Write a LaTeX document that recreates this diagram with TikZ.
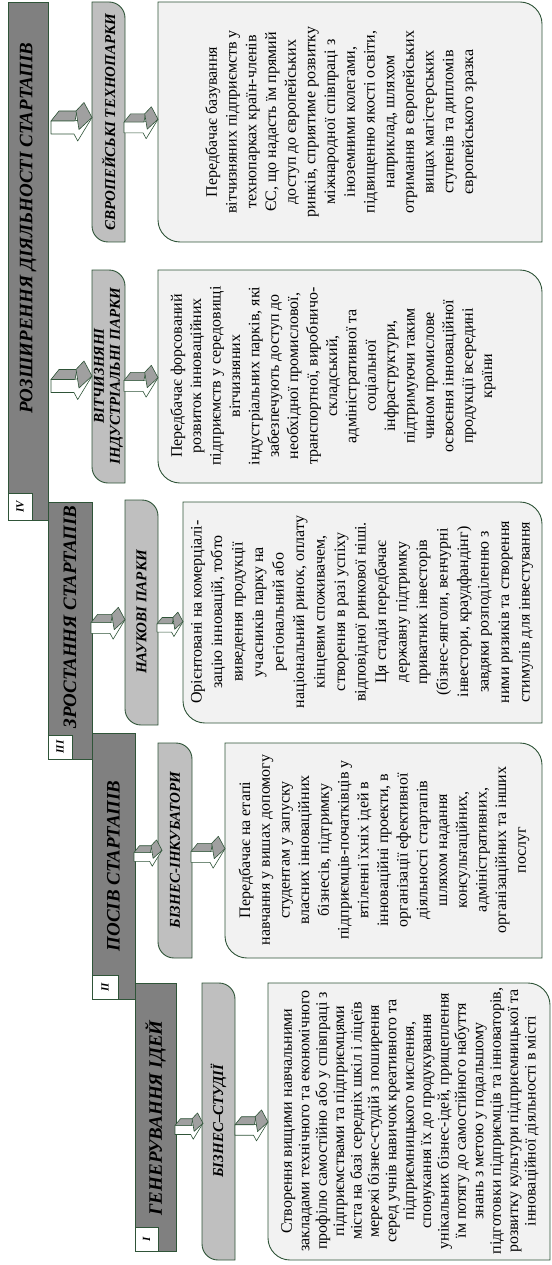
\documentclass[tikz,border=0pt]{standalone}
\usepackage{fontspec}
\setmainfont{Liberation Serif}
\usetikzlibrary{calc}
\definecolor{edgegreen}{RGB}{47,84,56}
\definecolor{bargray}{RGB}{128,128,128}
\definecolor{subgray}{RGB}{191,191,191}
\definecolor{notegray}{RGB}{242,242,242}
\definecolor{headgray}{RGB}{160,160,160}
% box with two rounded corners (top right and bottom left)
\def\diagbox[#1](#2,#3)(#4,#5)#6{\draw[#1] (#2,#3) -- ({#4-#6},#3) .. controls ({#4-0.45*#6},#3) and (#4,{#3+0.45*#6}) .. (#4,{#3+#6}) -- (#4,#5) -- ({#2+#6},#5) .. controls ({#2+0.45*#6},#5) and (#2,{#5-0.45*#6}) .. (#2,{#5-#6}) -- cycle;}
% folded block arrow, left end of shaft at (#1,#2), length #3
\def\blockarrow(#1,#2,#3){\begin{scope}[shift={(#1,#2)}, scale=#3/41]
	\draw[arrowline, fill=headgray] (0,-6.5) -- (8,-16.5) -- (26,-16.5) -- (24,-6.5) -- cycle;
	\draw[arrowline, fill=white] (0,-6.5) -- (23,-6.5) -- (41,-10) -- (26.7,13.5) -- (23,6.5) -- (0,6.5) -- cycle;
	\draw[arrowline, fill=headgray] (25,-16.5) -- (33,-25) -- (41,-10) -- (28,2) -- cycle;
	\end{scope}}

\begin{document}
\setlength{\lineskiplimit}{-20pt}
\begin{tikzpicture}[x=1pt, y=-1pt,
	stagebar/.style={draw=edgegreen, line width=0.9pt, fill=bargray},
	numbox/.style={draw=edgegreen, line width=0.9pt, fill=white},
	subbox/.style={draw=edgegreen, line width=0.9pt, fill=subgray},
	notebox/.style={draw=edgegreen, line width=0.9pt, fill=notegray},
	arrowline/.style={draw=edgegreen, line width=0.6pt, line join=round},
	stagetext/.style={rotate=90, inner sep=0pt, font=\fontsize{19}{20}\selectfont\bfseries\itshape},
	numtext/.style={rotate=90, inner sep=0pt, font=\fontsize{11}{12}\selectfont\bfseries\itshape},
	subtext/.style={rotate=90, inner sep=0pt, align=center, font=\fontsize{15}{16}\selectfont\bfseries\itshape},
	bodytext/.style={rotate=90, inner sep=0pt, align=center, font=\fontsize{16}{#1}\selectfont}]
	%%%%% START %%%%%
	\useasboundingbox (0,0) rectangle (551,1265);
	
	% stage bars
	\draw[stagebar] (135,983) rectangle (176,1251);
	\draw[stagebar] (92,733) rectangle (135,999);
	\draw[stagebar] (48,502) rectangle (92,759);
	\draw[stagebar] (8,2) rectangle (48,520);
	
	\draw[numbox] (135,1227) rectangle (158,1251);
	\draw[numbox] (92,975) rectangle (118,999);
	\draw[numbox] (48,735) rectangle (72,759);
	\draw[numbox] (8,493) rectangle (32,520);
	
	\node[numtext] (numI) at (146.5,1239) {I};
	\node[numtext] (numII) at (105,987) {II};
	\node[numtext] (numIII) at (60,747) {III};
	\node[numtext] (numIV) at (20,506.5) {IV};
	
	\node[stagetext] (gen) at (155.5,1118) {ГЕНЕРУВАННЯ ІДЕЙ};
	\node[stagetext] (sow) at (113.5,866) {ПОСІВ СТАРТАПІВ};
	\node[stagetext] (grow) at (70,617) {ЗРОСТАННЯ СТАРТАПІВ};
	\node[stagetext] (expand) at (28,228) {РОЗШИРЕННЯ ДІЯЛЬНОСТІ СТАРТАПІВ};
	
	% forms of support
	\diagbox[subbox](202,983)(235,1260){16}
	\diagbox[subbox](158,743)(192,958){16}
	\diagbox[subbox](125,500)(158,725){16}
	\diagbox[subbox](92,270)(125,483){16}
	\diagbox[subbox](92,2)(125,242){16}
	
	\node[subtext] (studio) at (218.5,1121) {БІЗНЕС–СТУДІЇ};
	\node[subtext] (incub) at (175,850) {БІЗНЕС-ІНКУБАТОРИ};
	\node[subtext] (scipark) at (141.5,612) {НАУКОВІ ПАРКИ};
	\node[subtext] (indpark) at (108.5,376) {ВІТЧИЗНЯНІ\\ІНДУСТРІАЛЬНІ ПАРКИ};
	\node[subtext] (eupark) at (108.5,122) {ЄВРОПЕЙСЬКІ ТЕХНОПАРКИ};
	
	% descriptions
	\diagbox[notebox](268,983)(550,1260){22}
	\diagbox[notebox](225,743)(542,958){22}
	\diagbox[notebox](183,502)(542,723){22}
	\diagbox[notebox](158,270)(542,483){22}
	\diagbox[notebox](158,2)(542,242){22}
	
	\node[bodytext=17.4] (studiotxt) at (410,1121) {Створення вищими навчальними\\закладами технічного та економічного\\профілю самостійно або у співпраці з\\підприємствами та підприємцями\\міста на базі середніх шкіл і ліцеїв\\мережі бізнес-студій з поширення\\серед учнів навичок креативного та\\підприємницького мислення,\\спонукання їх до продукування\\унікальних бізнес-ідей, прищеплення\\їм потягу до самостійного набуття\\знань з метою у подальшому\\підготовки підприємців та інноваторів,\\розвитку культури підприємницької та\\інноваційної діяльності в місті};
	
	\node[bodytext=19.7] (incubtxt) at (384,850) {Передбачає на етапі\\навчання у вишах допомогу\\студентам у запуску\\власних інноваційних\\бізнесів, підтримку\\підприємців-початківців у\\втіленні їхніх ідей в\\інноваційні проекти, в\\організації ефективної\\діяльності стартапів\\шляхом надання\\консультаційних,\\адміністративних,\\організаційних та інших\\послуг};
	
	\node[bodytext=20.5] (sciparktxt) at (362,612) {Орієнтовані на комерціалі-\\зацію інновацій, тобто\\виведення продукції\\учасників парку на\\регіональний або\\національний ринок, оплату\\кінцевим споживачем,\\створення в разі успіху\\відповідної ринкової ніші.\\Ця стадія передбачає\\державну підтримку\\приватних інвесторів\\(бізнес-янголи, венчурні\\інвестори, краудфандінг)\\завдяки розподіленню з\\ними ризиків та створення\\стимулів для інвестування};
	
	\node[bodytext=19.4] (indparktxt) at (333,376) {Передбачає форсований\\розвиток інноваційних\\підприємств у середовищі\\вітчизняних\\індустріальних парків, які\\забезпечують доступ до\\необхідної промислової,\\транспортної, виробничо-\\складський,\\адміністративної та\\соціальної\\інфраструктури,\\підтримуючи таким\\чином промислове\\освоєння інноваційної\\продукції всередині\\країни};
	
	\node[bodytext=19.7] (euparktxt) at (341,122) {Передбачає базування\\вітчизняних підприємств у\\технопарках країн-членів\\ЄС, що надасть їм прямий\\доступ до європейських\\ринків, сприятиме розвитку\\міжнародної співпраці з\\іноземними колегами,\\підвищенню якості освіти,\\наприклад, шляхом\\отримання в європейських\\вищах магістерських\\ступенів та дипломів\\європейського зразка};
	
	% arrows
	\blockarrow(175,1130,28)
	\blockarrow(235,1130,33)
	\blockarrow(134,857,28)
	\blockarrow(191,857,34)
	\blockarrow(91,628,34)
	\blockarrow(157,628,26)
	\blockarrow(51,386,41)
	\blockarrow(124,386,34)
	\blockarrow(51,127.5,41)
	\blockarrow(124,127.5,34)
	
	%%%%% END %%%%%
\end{tikzpicture}
\end{document}
